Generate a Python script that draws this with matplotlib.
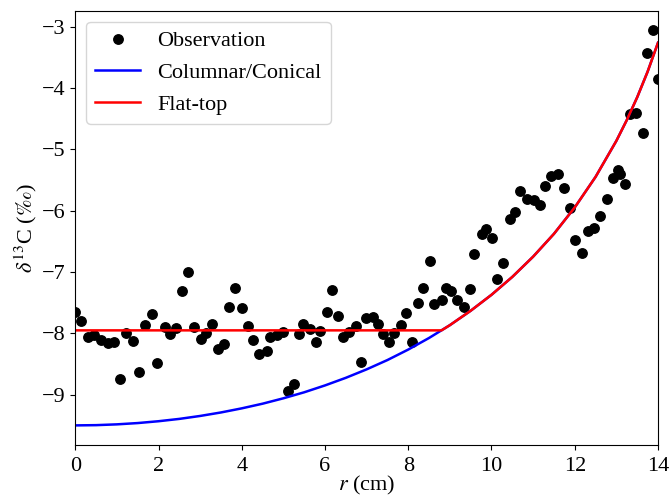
import numpy as np
import matplotlib
matplotlib.use("Agg")
import matplotlib.pyplot as plt

plt.rcParams['font.family'] = ['Liberation Serif', 'DejaVu Serif']
plt.rcParams['mathtext.fontset'] = 'stix'

# Observations
obs_r = [0.000, 0.144, 0.305, 0.450, 0.625, 0.786, 0.930, 1.067, 1.226, 1.387,
         1.524, 1.683, 1.844, 1.971, 2.149, 2.276, 2.428, 2.565, 2.709, 2.853,
         3.014, 3.135, 3.286, 3.423, 3.582, 3.702, 3.846, 4.007, 4.151, 4.264,
         4.423, 4.601, 4.680, 4.849, 5.000, 5.120, 5.264, 5.385, 5.481, 5.642,
         5.786, 5.882, 6.058, 6.171, 6.322, 6.428, 6.587, 6.748, 6.861, 6.988,
         7.149, 7.284, 7.404, 7.548, 7.668, 7.829, 7.950, 8.101, 8.245, 8.365,
         8.526, 8.630, 8.808, 8.911, 9.024, 9.183, 9.351, 9.488, 9.591, 9.769,
         9.873, 10.010, 10.144, 10.288, 10.433, 10.570, 10.673, 10.851, 11.010, 11.171,
         11.291, 11.435, 11.587, 11.748, 11.892, 12.012, 12.173, 12.308, 12.452, 12.613,
         12.774, 12.918, 13.029, 13.077, 13.214, 13.334, 13.478, 13.630, 13.736, 13.880,
         14.000]
obs_d13c = [-7.645, -7.792, -8.052, -8.029, -8.106, -8.160, -8.138, -8.746, -7.987, -8.122,
            -8.622, -7.862, -7.687, -8.476, -7.899, -8.008, -7.915, -7.303, -7.003, -7.899,
            -8.085, -7.987, -7.850, -8.252, -8.176, -7.564, -7.264, -7.580, -7.878, -8.101,
            -8.329, -8.285, -8.052, -8.024, -7.971, -8.932, -8.827, -8.008, -7.845, -7.932,
            -8.134, -7.954, -7.655, -7.292, -7.715, -8.062, -7.980, -7.873, -8.469, -7.752,
            -7.726, -7.840, -8.008, -8.134, -7.997, -7.862, -7.671, -8.134, -7.498, -7.264,
            -6.819, -7.524, -7.454, -7.264, -7.303, -7.454, -7.564, -7.280, -6.710, -6.384,
            -6.303, -6.440, -7.117, -6.857, -6.135, -6.016, -5.679, -5.814, -5.826, -5.907,
            -5.593, -5.435, -5.402, -5.625, -5.961, -6.477, -6.684, -6.331, -6.277, -6.086,
            -5.814, -5.472, -5.337, -5.402, -5.570, -4.425, -4.397, -4.730, -3.427, -3.057,
            -3.844]

# Columnar/Conical model curve
col_r = [0.0, 0.5, 1.0, 1.5, 2.0, 2.5, 3.0, 3.5, 4.0, 4.5, 5.0, 5.5, 6.0, 6.5, 7.0,
         7.5, 8.0, 8.5, 9.0, 9.5, 10.0, 10.5, 11.0, 11.5, 12.0, 12.5, 13.0, 13.25,
         13.5, 13.75, 14.0]
col_d13c = [-9.500, -9.496, -9.483, -9.462, -9.432, -9.394, -9.346, -9.289, -9.222,
            -9.146, -9.058, -8.960, -8.848, -8.724, -8.586, -8.434, -8.263, -8.074,
            -7.865, -7.630, -7.370, -7.078, -6.748, -6.376, -5.945, -5.447, -4.859,
            -4.521, -4.149, -3.732, -3.259]

# Flat-top model curve
flat_r = [0.0, 8.80, 9.0, 9.5, 10.0, 10.5, 11.0, 11.5, 12.0, 12.5, 13.0, 13.25,
          13.5, 13.75, 14.0]
flat_d13c = [-7.95, -7.95, -7.865, -7.630, -7.370, -7.078, -6.748, -6.376, -5.945,
             -5.447, -4.859, -4.521, -4.149, -3.732, -3.259]

fig = plt.figure(figsize=(6.71, 4.97), dpi=100)
ax = fig.add_axes([0.1122, 0.1046, 0.8684, 0.8734])

ax.plot(obs_r, obs_d13c, 'o', color='black', markersize=6.8, label='Observation')
ax.plot(col_r, col_d13c, '-', color='blue', linewidth=1.8, label='Columnar/Conical')
ax.plot(flat_r, flat_d13c, '-', color='red', linewidth=1.8, label='Flat-top')

ax.set_xlim(0, 14)
ax.set_ylim(-9.82, -2.74)
ax.set_xticks([0, 2, 4, 6, 8, 10, 12, 14])
ax.set_yticks([-9, -8, -7, -6, -5, -4, -3])
ax.tick_params(labelsize=16)
ax.tick_params(axis='x', pad=5)
ax.set_xlabel('$r$ (cm)', fontsize=16, labelpad=-1)
ax.set_ylabel(r'$\delta^{13}$C ($\perthousand$)', fontsize=16, labelpad=2)

ax.legend(loc='upper left', fontsize=16, numpoints=1)

fig.savefig('out.png', dpi=100)
